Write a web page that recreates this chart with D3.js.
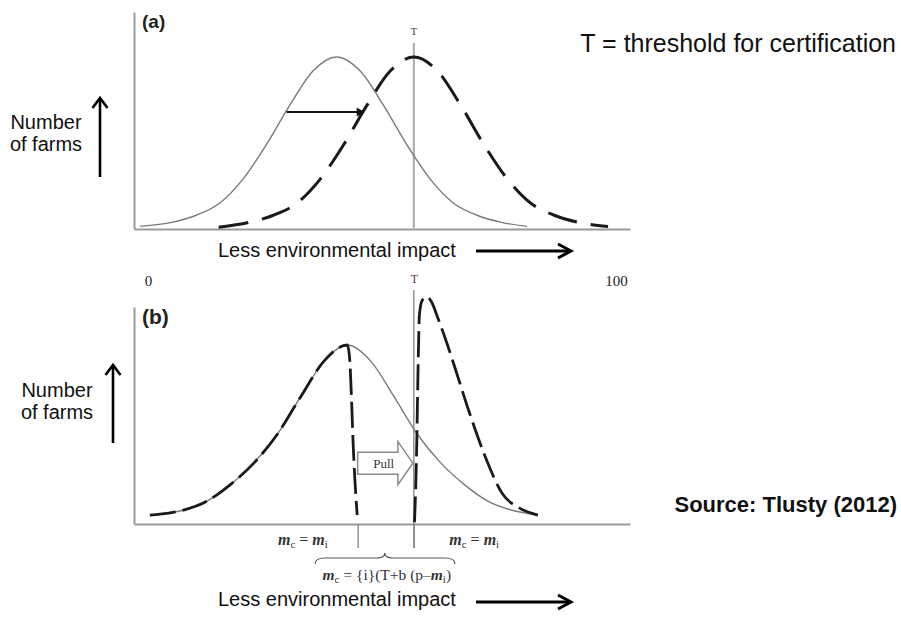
<!DOCTYPE html>
<html><head><meta charset="utf-8">
<script src="https://cdn.jsdelivr.net/npm/d3@7"></script>
<style>body{margin:0;background:#fff} svg{display:block}</style>
</head><body><svg id="c" width="901" height="619"></svg>
<script>
// ---------- data ----------
const threshold = 56.8;
const xTickValues = [0, 56.8, 100];
const xTickLabels = ["0", "T", "100"];

// panel (a)
const aSolidX = [-1.7, 5.3, 10.3, 15.3, 20.3, 25.3, 30.3, 35.3, 40.3, 45.3, 50.3, 55.3, 60.3, 65.3, 70.3, 75.3, 81];
const aSolidY = [1.5, 4, 8, 15, 29, 49, 72, 92, 100, 92, 72, 49, 29, 15, 8, 4, 1.5];
const aDashX = [15.1, 21.8, 26.8, 31.8, 36.8, 41.8, 46.8, 51.8, 56.8, 61.8, 66.8, 71.8, 76.8, 81.8, 86.8, 91.8, 98.3];
const aDashY = [1, 4, 8, 15, 29, 49, 72, 92, 100, 92, 72, 49, 29, 15, 8, 4, 1.5];
const aShiftX = [29.6, 46.3];
const aShiftY = [68, 68];

// panel (b)
const bSolidX = [0.4, 2.6, 7.6, 12.6, 17.6, 22.6, 27.6, 32.6, 37.6, 42.6, 47.6, 52.6, 57.6, 62.6, 67.6, 72.6, 77.6, 83.3];
const bSolidY = [5, 5.5, 7.8, 12.8, 22, 34, 50, 71, 91, 100, 91, 71, 50, 34, 22, 12.8, 7.8, 5];
const bLowX = [0.4, 2.6, 7.6, 12.6, 17.6, 22.6, 27.6, 32.6, 37.6, 42.6, 43.1, 43.5, 43.8, 44.2, 44.7];
const bLowY = [5, 5.5, 7.8, 12.8, 22, 34, 50, 71, 91, 100, 92, 69, 47, 25, 5];
const bHighX = [56.95, 57.4, 57.7, 58, 58.6, 59.5, 60.6, 61.8, 64, 65.5, 68.7, 72.3, 75.7, 79.3, 83.3];
const bHighY = [1, 41, 86, 117, 125, 127, 124, 116, 100, 88, 62, 36, 17, 9, 5];
const pullX = [44.8, 56.6];
const pullY = 34;
const bTickValues = [44.8, 56.8];
const mLabelX = [33.1, 69.7];
const braceX = [35.7, 50.6, 65.6];

// ---------- scales ----------
const svg = d3.select("#c");
const x = d3.scaleLinear().domain([0, 100]).range([148, 616]);
const yA = d3.scaleLinear().domain([0, 100]).range([229, 57]);
const yB = d3.scaleLinear().domain([0, 100]).range([524, 345]);

const sans = "'Liberation Sans', Arial, sans-serif";
const serif = "'Liberation Serif', 'Times New Roman', serif";

const zip = (xs, ys) => xs.map((v, i) => [v, ys[i]]);

function frame(yScale, top, bottom) {
  const xf = d3.scaleLinear().domain([x.invert(134), x.invert(630)]).range([134, 630]);
  svg.append("g").attr("transform", `translate(0,${bottom})`)
    .call(d3.axisBottom(xf).tickValues([]).tickSizeOuter(0))
    .select(".domain").attr("stroke", "#9a9a9a").attr("stroke-width", 2);
  const yf = d3.scaleLinear().domain([yScale.invert(bottom), yScale.invert(top)]).range([bottom, top]);
  svg.append("g").attr("transform", `translate(134,0)`)
    .call(d3.axisLeft(yf).tickValues([]).tickSizeOuter(0))
    .select(".domain").attr("stroke", "#9a9a9a").attr("stroke-width", 2);
}

// ---------- panel (a) ----------
frame(yA, 12, 229);
const lineA = d3.line().x(d => x(d[0])).y(d => yA(d[1])).curve(d3.curveMonotoneX);
svg.append("line").attr("x1", x(threshold)).attr("x2", x(threshold))
  .attr("y1", 43).attr("y2", 228).attr("stroke", "#aaaaaa").attr("stroke-width", 2);
svg.append("path").datum(zip(aSolidX, aSolidY)).attr("d", lineA)
  .attr("fill", "none").attr("stroke", "#7a7a7a").attr("stroke-width", 1.4);
svg.append("path").datum(zip(aDashX, aDashY)).attr("d", lineA)
  .attr("fill", "none").attr("stroke", "#1a1a1a").attr("stroke-width", 3)
  .attr("stroke-dasharray", "30,14");
// shift arrow
{
  const x0 = x(aShiftX[0]), x1 = x(aShiftX[1]), yy = yA(aShiftY[0]);
  svg.append("line").attr("x1", x0).attr("x2", x1 - 6).attr("y1", yy).attr("y2", yy)
    .attr("stroke", "#111").attr("stroke-width", 2);
  svg.append("path").attr("d", `M${x1 - 8},${yy - 4.5}L${x1},${yy}L${x1 - 8},${yy + 4.5}Z`).attr("fill", "#111");
}
svg.append("text").attr("x", 142).attr("y", 28).text("(a)")
  .attr("font-family", sans).attr("font-weight", "bold").attr("font-size", 19).attr("fill", "#222");
svg.append("text").attr("x", x(threshold)).attr("y", 35).attr("text-anchor", "middle").text("T")
  .attr("font-family", serif).attr("font-size", 11).attr("fill", "#3a3a5a");

// ---------- panel (b) ----------
frame(yB, 307, 524);
const lineB = d3.line().x(d => x(d[0])).y(d => yB(d[1])).curve(d3.curveMonotoneX);
svg.append("line").attr("x1", x(threshold)).attr("x2", x(threshold))
  .attr("y1", 290).attr("y2", 548).attr("stroke", "#8a8a8a").attr("stroke-width", 1.4);
svg.append("g").attr("transform", "translate(0,524)")
  .call(d3.axisBottom(x).tickValues(bTickValues).tickSize(24).tickFormat(""))
  .call(g => g.select(".domain").remove())
  .selectAll("line").attr("stroke", "#8a8a8a").attr("stroke-width", 1.4);
svg.append("path").datum(zip(bSolidX, bSolidY)).attr("d", lineB)
  .attr("fill", "none").attr("stroke", "#7a7a7a").attr("stroke-width", 1.4);
svg.append("path").datum(zip(bLowX, bLowY)).attr("d", lineB)
  .attr("fill", "none").attr("stroke", "#1a1a1a").attr("stroke-width", 2.8)
  .attr("stroke-dasharray", "26,7");
svg.append("path").datum(zip(bHighX, bHighY)).attr("d", lineB)
  .attr("fill", "none").attr("stroke", "#1a1a1a").attr("stroke-width", 2.8)
  .attr("stroke-dasharray", "26,7");
// pull arrow
{
  const px0 = x(pullX[0]), px1 = x(pullX[1]), py = yB(pullY);
  const hb = px1 - 15;
  svg.append("path")
    .attr("d", `M${px0},${py - 11}L${hb},${py - 11}L${hb},${py - 21.5}L${px1},${py}L${hb},${py + 21.5}L${hb},${py + 11}L${px0},${py + 11}Z`)
    .attr("fill", "#fff").attr("stroke", "#8a8a8a").attr("stroke-width", 1.5);
  svg.append("text").attr("x", (px0 + hb) / 2 + 6).attr("y", py + 4.5).attr("text-anchor", "middle")
    .text("Pull").attr("font-family", serif).attr("font-size", 13).attr("fill", "#333344");
}
svg.append("text").attr("x", 142).attr("y", 324).text("(b)")
  .attr("font-family", sans).attr("font-weight", "bold").attr("font-size", 21).attr("fill", "#222");

// tick labels 0 / T / 100
const tickG = svg.append("g").attr("transform", "translate(0,286)")
  .call(d3.axisTop(x).tickValues(xTickValues).tickSize(0).tickPadding(0).tickFormat((d, i) => xTickLabels[i]));
tickG.select(".domain").remove();
tickG.selectAll("text").attr("dy", 0).attr("font-family", serif).attr("font-size", 15).attr("fill", "#222")
  .filter((d, i) => i === 1).attr("font-size", 12).attr("fill", "#6e3434").attr("dy", -3);

// m labels
function mLabel(t, sub1, mid, sub2, tail) {
  t.append("tspan").text("m").attr("font-style", "italic").attr("font-weight", "bold");
  t.append("tspan").text(sub1).attr("font-size", 11).attr("dy", 3);
  t.append("tspan").text(mid).attr("dy", -3);
  t.append("tspan").text("m").attr("font-style", "italic").attr("font-weight", "bold");
  t.append("tspan").text(sub2).attr("font-size", 11).attr("dy", 3);
  if (tail) t.append("tspan").text(tail).attr("dy", -3);
}
mLabelX.forEach(v => {
  const t = svg.append("text").attr("x", x(v)).attr("y", 545).attr("text-anchor", "middle")
    .attr("font-family", serif).attr("font-size", 16).attr("fill", "#333");
  mLabel(t, "c", " = ", "i", null);
});
{
  const t = svg.append("text").attr("x", x(braceX[1]) + 2).attr("y", 580).attr("text-anchor", "middle")
    .attr("font-family", serif).attr("font-size", 15.5).attr("fill", "#333");
  mLabel(t, "c", " = {i}(T+b (p\u2013", "i", ")");
  const b0 = x(braceX[0]), bm = x(braceX[1]), b2 = x(braceX[2]);
  svg.append("path")
    .attr("d", `M${b0},564Q${b0},558 ${b0 + 10},558L${bm - 8},558Q${bm},558 ${bm},553Q${bm},558 ${bm + 8},558L${b2 - 10},558Q${b2},558 ${b2},564`)
    .attr("fill", "none").attr("stroke", "#555").attr("stroke-width", 1.2);
}

// ---------- outer labels ----------
function yLabel(cx, y1, ax, aTop, aBot) {
  svg.append("text").attr("x", cx).attr("y", y1).attr("text-anchor", "middle").text("Number")
    .attr("font-family", sans).attr("font-size", 20).attr("fill", "#111");
  svg.append("text").attr("x", cx).attr("y", y1 + 22).attr("text-anchor", "middle").text("of farms")
    .attr("font-family", sans).attr("font-size", 20).attr("fill", "#111");
  svg.append("line").attr("x1", ax).attr("x2", ax).attr("y1", aBot).attr("y2", aTop + 1)
    .attr("stroke", "#000").attr("stroke-width", 2.6);
  svg.append("path").attr("d", `M${ax - 7.5},${aTop + 10}L${ax},${aTop}L${ax + 7.5},${aTop + 10}`)
    .attr("fill", "none").attr("stroke", "#000").attr("stroke-width", 2.6);
}
yLabel(46, 129, 100, 98, 177);
yLabel(57, 397, 113, 365, 443);

function xLabel(yText, yArrow) {
  svg.append("text").attr("x", 218).attr("y", yText).text("Less environmental impact")
    .attr("font-family", sans).attr("font-size", 20).attr("fill", "#111");
  svg.append("line").attr("x1", 476).attr("x2", 569).attr("y1", yArrow).attr("y2", yArrow)
    .attr("stroke", "#000").attr("stroke-width", 3);
  svg.append("path").attr("d", `M558,${yArrow - 7}L571,${yArrow}L558,${yArrow + 7}`)
    .attr("fill", "none").attr("stroke", "#000").attr("stroke-width", 3);
}
xLabel(257, 251);
xLabel(606, 602);

svg.append("text").attr("x", 896).attr("y", 52).attr("text-anchor", "end")
  .text("T = threshold for certification")
  .attr("font-family", sans).attr("font-size", 25).attr("fill", "#111");
svg.append("text").attr("x", 897).attr("y", 512).attr("text-anchor", "end")
  .text("Source: Tlusty (2012)")
  .attr("font-family", sans).attr("font-weight", "bold").attr("font-size", 22).attr("fill", "#111");
</script></body></html>
